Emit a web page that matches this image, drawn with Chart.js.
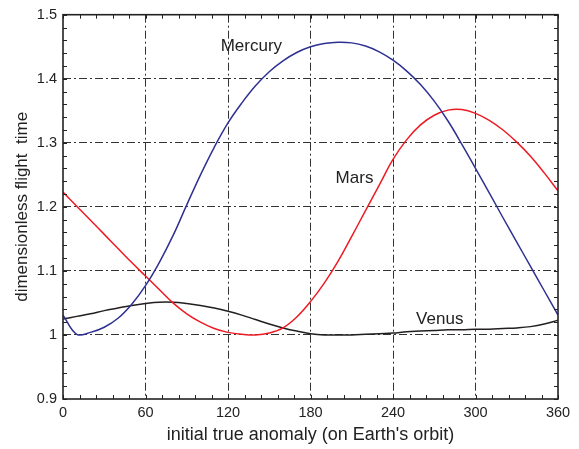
<!DOCTYPE html>
<html>
<head>
<meta charset="utf-8">
<script src="https://cdn.jsdelivr.net/npm/chart.js@4"></script>
<style>
  html, body { margin: 0; padding: 0; background: #fff; }
  #wrap { width: 579px; height: 449px; }
</style>
</head>
<body>
<div id="wrap"><canvas id="flightChart"></canvas></div>
<script>
// initial true anomaly (deg), every 10 degrees
const angles = [0, 10, 20, 30, 40, 50, 60, 70, 80, 90, 100, 110, 120, 130, 140, 150, 160, 170, 180,
                190, 200, 210, 220, 230, 240, 250, 260, 270, 280, 290, 300, 310, 320, 330, 340, 350, 360];

const mercury = [1.031, 1.001, 1.004, 1.012, 1.026, 1.048, 1.077, 1.113, 1.155, 1.203, 1.250, 1.293, 1.331,
                 1.362, 1.389, 1.411, 1.428, 1.441, 1.450, 1.455, 1.457, 1.456, 1.451, 1.442, 1.429, 1.412,
                 1.391, 1.365, 1.334, 1.298, 1.260, 1.222, 1.183, 1.145, 1.107, 1.069, 1.031];

const mars = [1.223, 1.201, 1.179, 1.157, 1.135, 1.113, 1.092, 1.071, 1.050, 1.033, 1.020, 1.010, 1.004,
              1.001, 1.000, 1.003, 1.011, 1.028, 1.052, 1.081, 1.115, 1.154, 1.194, 1.234, 1.274, 1.305,
              1.328, 1.343, 1.351, 1.352, 1.346, 1.335, 1.320, 1.301, 1.279, 1.253, 1.225];

const venus = [1.025, 1.029, 1.033, 1.038, 1.042, 1.046, 1.049, 1.051, 1.051, 1.049, 1.046, 1.042, 1.037,
               1.031, 1.024, 1.017, 1.011, 1.006, 1.002, 1.000, 1.000, 1.000, 1.001, 1.002, 1.003, 1.005,
               1.006, 1.007, 1.008, 1.008, 1.009, 1.009, 1.010, 1.011, 1.013, 1.017, 1.023];

// curve name labels placed in data coordinates
const curveLabels = [
    { text: 'Mercury', x: 137, y: 1.450 },
    { text: 'Mars', x: 212, y: 1.245 },
    { text: 'Venus', x: 274, y: 1.024 }
];

const FONT = "'Liberation Sans', Arial, sans-serif";
const series = (vals) => angles.map((a, i) => ({ x: a, y: vals[i] }));

// box around the plot + small inward tick marks + curve names
const framePlugin = {
    id: 'frame',
    afterDatasetsDraw(chart) {
        const { ctx, chartArea: a, scales: { x, y } } = chart;
        ctx.save();
        ctx.strokeStyle = '#222';
        ctx.lineWidth = 1;
        ctx.beginPath();
        for (let v = 0; v <= 360; v += 12) {
            const px = Math.round(x.getPixelForValue(v)) + 0.5;
            ctx.moveTo(px, a.bottom); ctx.lineTo(px, a.bottom - 4);
            ctx.moveTo(px, a.top); ctx.lineTo(px, a.top + 4);
        }
        for (let k = 0; k <= 30; k++) {
            const py = Math.round(y.getPixelForValue(0.9 + k * 0.02)) + 0.5;
            ctx.moveTo(a.left, py); ctx.lineTo(a.left + 4, py);
            ctx.moveTo(a.right, py); ctx.lineTo(a.right - 4, py);
        }
        ctx.stroke();
        ctx.lineWidth = 1.6;
        ctx.strokeRect(a.left, a.top, a.right - a.left, a.bottom - a.top);

        ctx.fillStyle = '#222';
        ctx.font = '17px ' + FONT;
        ctx.textAlign = 'center';
        ctx.textBaseline = 'middle';
        curveLabels.forEach(l => ctx.fillText(l.text, x.getPixelForValue(l.x), y.getPixelForValue(l.y)));
        ctx.restore();
    }
};

const gridDash = [8, 3, 2, 3];

new Chart(document.getElementById('flightChart'), {
    type: 'line',
    data: {
        datasets: [
            { label: 'Mercury', data: series(mercury), borderColor: '#2e3192', borderWidth: 1.5 },
            { label: 'Mars', data: series(mars), borderColor: '#ed1c24', borderWidth: 1.5 },
            { label: 'Venus', data: series(venus), borderColor: '#231f20', borderWidth: 1.5 }
        ]
    },
    options: {
        responsive: true,
        maintainAspectRatio: false,
        animation: false,
        elements: { point: { radius: 0 }, line: { tension: 0.4 } },
        layout: { padding: { left: 0, right: 21, top: 8, bottom: 0 } },
        plugins: { legend: { display: false }, tooltip: { enabled: false } },
        scales: {
            x: {
                type: 'linear', min: 0, max: 360,
                afterFit: (s) => { s.height = 50; },
                ticks: { stepSize: 60, color: '#222', padding: 5, font: { family: FONT, size: 14.5 } },
                grid: {
                    drawTicks: false,
                    color: (c) => (c.tick && (c.tick.value === 0 || c.tick.value === 360)) ? 'rgba(0,0,0,0)' : '#333'
                },
                border: { display: false, dash: gridDash },
                title: {
                    display: true, text: "initial true anomaly (on Earth's orbit)", color: '#222',
                    font: { family: FONT, size: 18 }, padding: { top: 0, bottom: 3 }
                }
            },
            y: {
                type: 'linear', min: 0.9, max: 1.5,
                afterFit: (s) => { s.width = 63; },
                ticks: {
                    stepSize: 0.1, color: '#222', padding: 6, font: { family: FONT, size: 14.5 },
                    callback: (v) => String(Math.round(v * 10) / 10)
                },
                grid: {
                    drawTicks: false,
                    color: (c) => (c.tick && (Math.abs(c.tick.value - 0.9) < 1e-6 || Math.abs(c.tick.value - 1.5) < 1e-6)) ? 'rgba(0,0,0,0)' : '#333'
                },
                border: { display: false, dash: gridDash },
                title: {
                    display: true, text: 'dimensionless flight  time', color: '#222',
                    font: { family: FONT, size: 17 }, padding: { top: 12, bottom: 0 }
                }
            }
        }
    },
    plugins: [framePlugin]
});
</script>
</body>
</html>
